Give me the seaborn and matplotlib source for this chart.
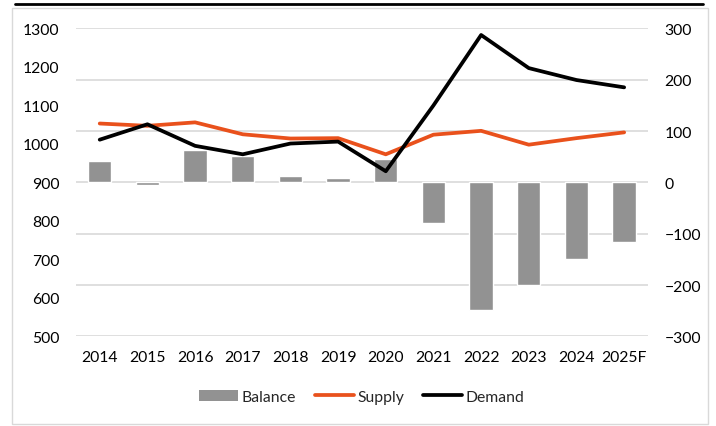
import matplotlib
matplotlib.use("Agg")
import matplotlib.pyplot as plt
import seaborn as sns
import pandas as pd
from matplotlib.lines import Line2D
from matplotlib.patches import Rectangle, Patch

years = ["2014", "2015", "2016", "2017", "2018", "2019", "2020",
         "2021", "2022", "2023", "2024", "2025F"]
supply = [1053, 1047, 1056, 1025, 1014, 1015, 973, 1024, 1034, 998, 1015, 1030]
demand = [1011, 1051, 995, 973, 1001, 1006, 929, 1100, 1283, 1197, 1166, 1147]
balance = [41, -5, 64, 52, 13, 9, 45, -79, -248, -199, -149, -116]

BAR_COLOR = "#929292"
SUPPLY_COLOR = "#E9511C"
DEMAND_COLOR = "#000000"

sns.set_style("white")
plt.rcParams["font.family"] = ["Lato", "DejaVu Sans"]

df = pd.DataFrame({"Year": years, "Supply": supply, "Demand": demand, "Balance": balance})

fig = plt.figure(figsize=(7.16, 4.27), dpi=100)
ax_b = fig.add_axes([0.106, 0.21, 0.799, 0.721])

# bars on the primary axes (right-hand scale), lines on the twin (left-hand scale)
sns.barplot(data=df, x="Year", y="Balance", color=BAR_COLOR, width=0.49,
            saturation=1, ax=ax_b, zorder=2)
ax_b.set_ylim(-300, 300)
ax_b.set_yticks(range(-300, 301, 100))
ax_b.grid(axis="y", color="#D9D9D9", linewidth=1.2, zorder=0)
ax_b.set_axisbelow(True)

ax_l = ax_b.twinx()
sns.lineplot(data=df, x="Year", y="Supply", color=SUPPLY_COLOR, linewidth=2.7,
             ax=ax_l, sort=False)
sns.lineplot(data=df, x="Year", y="Demand", color=DEMAND_COLOR, linewidth=2.7,
             ax=ax_l, sort=False)
ax_l.set_ylim(500, 1300)
ax_l.set_yticks(range(500, 1301, 100))
ax_l.set_xlim(-0.5, 11.5)

ax_b.yaxis.tick_right()
ax_l.yaxis.tick_left()
for a in (ax_b, ax_l):
    a.set_xlabel("")
    a.set_ylabel("")
    for s in a.spines.values():
        s.set_visible(False)
    a.tick_params(length=0, labelsize=11.3, colors="#000000")
ax_b.tick_params(axis="y", pad=12)
ax_l.tick_params(axis="y", pad=12)
ax_b.tick_params(axis="x", pad=10)

handles = [Patch(facecolor=BAR_COLOR, edgecolor="none"),
           Line2D([], [], color=SUPPLY_COLOR, linewidth=2.7),
           Line2D([], [], color=DEMAND_COLOR, linewidth=2.7)]
fig.legend(handles, ["Balance", "Supply", "Demand"], loc="center",
           bbox_to_anchor=(0.505, 0.068), ncol=3, frameon=False,
           fontsize=11.3, handlelength=2.5, handleheight=0.7,
           handletextpad=0.2, columnspacing=1.2)

# outer frame and top rule
fig.add_artist(Rectangle((12 / 716, 2 / 427), 696 / 716, 416 / 427,
                         transform=fig.transFigure, fill=False,
                         edgecolor="#D9D9D9", linewidth=1))
fig.add_artist(Line2D([15 / 716, 703 / 716], [1 - 5 / 427, 1 - 5 / 427],
                      transform=fig.transFigure, color="black", linewidth=2))

fig.savefig("out.png", dpi=100)
